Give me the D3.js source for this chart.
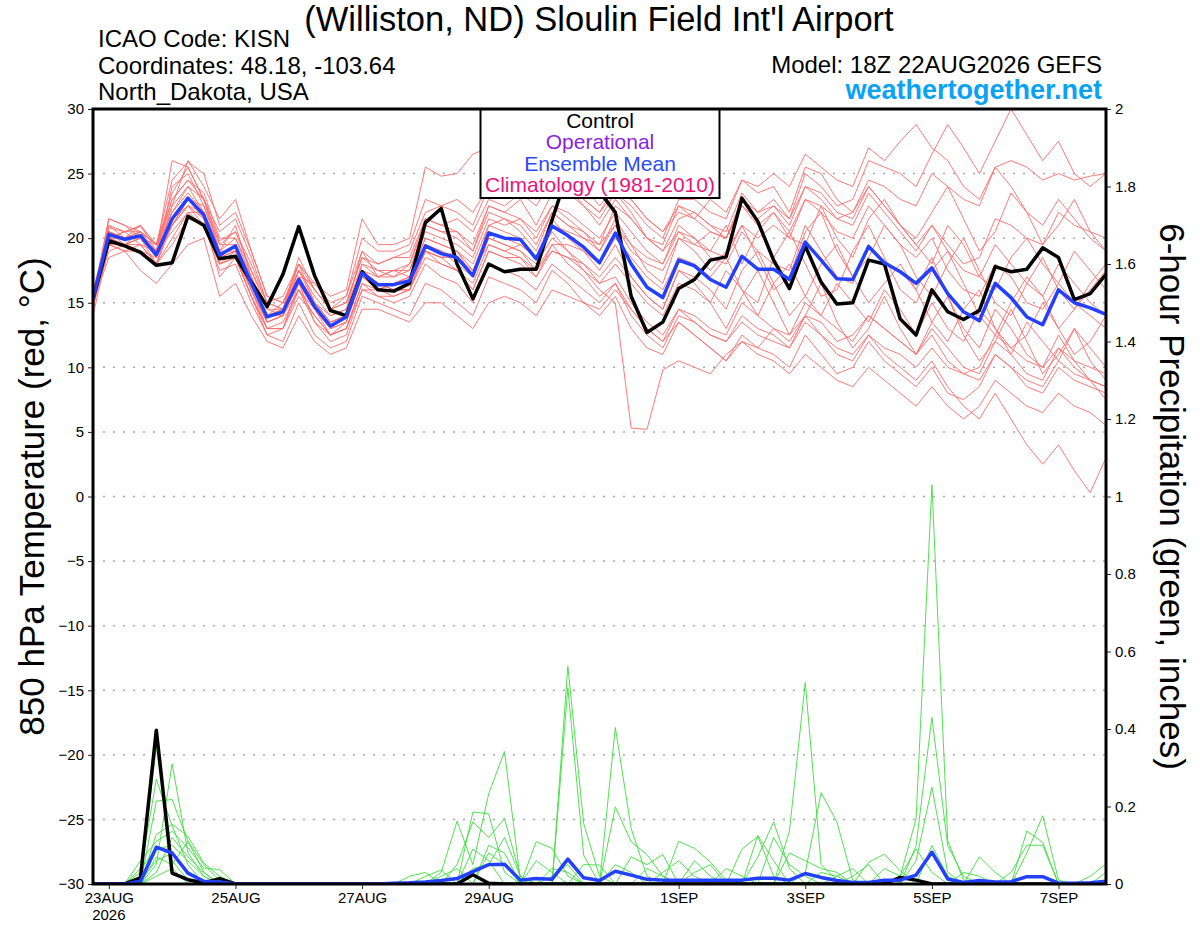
<!DOCTYPE html>
<html>
<head>
<meta charset="utf-8">
<script src="https://cdn.jsdelivr.net/npm/d3@7"></script>
<style>
  body { margin: 0; background: #fff; }
  svg { display: block; font-family: 'Liberation Sans', Arial, Helvetica, sans-serif; }
</style>
</head>
<body>
<div id="chart"></div>
<script>
// run start (18Z 22AUG2026), one value every 6 hours
const runStart = Date.UTC(2026, 7, 22, 18);
const stepHours = 6;

const tempTicks = [-30, -25, -20, -15, -10, -5, 0, 5, 10, 15, 20, 25, 30];
const precipTicks = [0, 0.2, 0.4, 0.6, 0.8, 1, 1.2, 1.4, 1.6, 1.8, 2];
const dateTicks = ['2026-08-23', '2026-08-25', '2026-08-27', '2026-08-29', '2026-09-01', '2026-09-03', '2026-09-05', '2026-09-07'];
const dateLabels = ['23AUG', '25AUG', '27AUG', '29AUG', '1SEP', '3SEP', '5SEP', '7SEP'];

const legendLabels = ['Control', 'Operational', 'Ensemble Mean', 'Climatology (1981-2010)'];

// 850 hPa temperature (C)
const controlTemp = [
  15.3, 19.8, 19.4, 18.9, 17.9, 18.1, 21.7, 21.0, 18.4, 18.6, 16.6, 14.7, 17.2,
  20.9, 17.1, 14.4, 14.0, 17.4, 16.0, 15.9, 16.5, 21.2, 22.3, 18.0, 15.3, 18.0,
  17.4, 17.6, 17.6, 21.4, 25.1, 25.5, 23.6, 22.0, 15.5, 12.7, 13.5, 16.1, 16.8,
  18.3, 18.55, 23.1, 21.3, 18.3, 16.1, 19.4, 16.6, 14.9, 15.0, 18.3, 18.0, 13.75,
  12.5, 16.0, 14.3, 13.7, 14.4, 17.8, 17.4, 17.6, 19.25, 18.5, 15.25, 15.7, 17.2
];
const meanTemp = [
  15.3, 20.3, 19.9, 20.2, 18.7, 21.5, 23.1, 21.8, 18.7, 19.4, 16.5, 13.9, 14.3,
  16.8, 14.7, 13.2, 13.9, 17.3, 16.4, 16.4, 16.7, 19.4, 18.8, 18.5, 17.1, 20.4,
  20.0, 19.9, 18.4, 20.95, 20.2, 19.3, 18.1, 20.4, 18.0, 16.2, 15.4, 18.3, 17.85,
  16.8, 16.2, 18.6, 17.6, 17.6, 16.8, 19.7, 18.3, 16.85, 16.8, 19.35, 18.1, 17.4,
  16.5, 17.7, 15.7, 14.3, 13.6, 16.5, 15.4, 13.9, 13.3, 16.0, 15.0, 14.6, 14.1
];
const memberTemp = [
  [15.0, 20.8, 20.5, 20.9, 19.5, 23.5, 25.5, 23.0, 19.8, 20.5, 17.5, 14.5, 14.0,
   17.5, 15.5, 14.0, 14.5, 18.0, 17.5, 17.0, 18.0, 21.0, 20.5, 20.0, 19.0, 22.5,
   22.0, 23.0, 21.0, 23.5, 24.0, 22.5, 21.0, 23.0, 21.5, 20.0, 19.0, 21.5, 22.0,
   21.0, 20.5, 23.5, 22.0, 23.0, 21.5, 25.0, 24.0, 22.5, 23.0, 26.0, 25.5, 25.0,
   24.0, 26.5, 28.8, 27.0, 25.0, 27.5, 30.0, 28.0, 26.0, 27.5, 25.0, 24.0, 25.0],
  [15, 19, 19.5, 19, 18, 20, 22, 21, 18, 18.5, 15.5, 13, 13.5,
   16, 14, 12.5, 13, 16.5, 15.5, 15, 15.5, 18, 17, 16.5, 15, 18,
   17.5, 17, 16, 18, 17, 16, 15, 16.5, 14, 12.5, 11.5, 14, 13.5,
   12.5, 12, 14, 13, 12.5, 11.5, 14, 12.5, 11, 10.5, 12.5, 11, 10,
   9, 10.5, 8.5, 7, 6, 8, 6, 4, 2.5, 4, 2, 0.3, 3],
  [15.5, 20, 19.5, 20.5, 19, 22, 23.5, 22, 18.5, 19.5, 16.5, 13.5, 14,
   16.5, 14.5, 13, 13.5, 17, 16.5, 16, 16.5, 19.5, 19, 18, 17, 20,
   19.5, 19, 18, 20, 19, 17.5, 16, 15, 5.3, 5.2, 9.8, 10.5, 10,
   9.5, 11, 12, 11.5, 13, 12, 14, 13.5, 12, 12.5, 14, 13, 12,
   11, 12.5, 10.5, 9.5, 9, 11, 10, 8.5, 8, 10, 9, 8.5, 8],
  [14.5, 21, 20, 20, 18.5, 24, 25, 22.5, 19, 21, 17, 14, 15,
   18, 15, 14, 14.5, 19, 17, 17.5, 17, 20, 19.5, 19, 18, 21,
   21.5, 20.5, 19, 22, 21, 20, 19, 21.5, 19.5, 17.5, 16.5, 20, 19,
   17.5, 19, 21, 18.5, 16, 17, 20.5, 22, 19, 17, 18.5, 21, 19.5,
   17, 15.5, 18, 20, 17.5, 15, 14, 16.5, 18.5, 16, 14.5, 16, 17.5],
  [16, 20.5, 20, 21, 19.5, 21, 23, 22.5, 19.5, 19.5, 17, 14.5, 14.5,
   17.5, 15, 13.5, 14, 17.5, 17, 17, 17.5, 20.5, 20, 19.5, 18.5, 21.5,
   21, 21.5, 20, 22.5, 22, 21, 20, 22, 20.5, 19, 18, 20.5, 20,
   19, 21, 18, 20.5, 22, 20, 19.5, 22.5, 20, 18.5, 21.5, 23, 21,
   19.5, 18, 21, 19.5, 17, 16, 18.5, 20, 18, 16.5, 19, 17.5, 16],
  [15, 20, 20.5, 19.5, 19, 23, 24.5, 23.5, 20, 20, 17.5, 15, 14.5,
   18, 16, 14.5, 15, 18.5, 18, 18.5, 19, 22, 22.5, 23, 22, 24,
   24.5, 25, 24, 26, 25.5, 24, 22.5, 24, 23, 21.5, 20.5, 22, 21.5,
   23, 22, 24.5, 23.5, 24, 22, 25.5, 25, 23, 22, 24, 22.5, 21,
   20, 22, 24, 21.5, 19, 20.5, 23.5, 22, 19.5, 21, 23, 20.5, 19],
  [15, 19.5, 19, 19.5, 18, 19.5, 21.5, 21, 17.5, 18, 15, 12.5, 12,
   15, 12.5, 11.5, 12, 15.5, 15, 14.5, 14, 16.5, 16, 15, 14, 17,
   16.5, 16, 15, 17.5, 16.5, 15, 14, 15.5, 13, 11.5, 11, 13.5, 12.5,
   11.5, 10.5, 12.5, 11.5, 11, 10, 12.5, 11, 9.5, 10, 12, 10.5, 9.5,
   8.5, 10, 8, 7.5, 8.5, 11, 10, 9, 8.5, 10.5, 9.5, 9, 7.5],
  [15.5, 21.5, 21, 20.5, 19.5, 22.5, 26, 24, 21.5, 23, 19, 15.5, 15,
   17, 16.5, 15.5, 16, 21.5, 19.5, 19.5, 20, 25.5, 24.8, 25, 26.5, 27,
   26, 26.5, 25, 26, 24.5, 23, 22, 23.5, 22, 20, 19, 20.5, 19.5,
   20.5, 20, 22.5, 21, 22, 20.5, 23, 22, 20.5, 20, 22.5, 21, 19.5,
   18.5, 20, 17.5, 16, 15.5, 18, 17, 15, 14.5, 16.5, 15, 14, 13],
  [14.5, 20, 19.5, 20, 18, 21.5, 22.5, 21.5, 17, 18.5, 15.5, 12.5, 13,
   16.5, 13.5, 12, 12.5, 16, 16, 16.5, 17, 19, 18.5, 18.5, 17.5, 19.5,
   19, 18.5, 17.5, 19, 18.5, 18, 17, 18.5, 17, 15.5, 14.5, 17.5, 17,
   16, 14.5, 17.5, 19, 16.5, 14, 15.5, 18, 19.5, 17, 15, 16.5, 18,
   16, 13.5, 12, 14.5, 16, 13, 11.5, 12.5, 15, 13, 11, 12, 14],
  [15, 20.5, 20, 20.5, 19.5, 22, 24, 22, 18.5, 19, 16, 13.5, 14,
   16, 14.5, 13, 14, 17, 16.5, 16, 16, 19, 18.5, 17.5, 16.5, 19.5,
   19, 19.5, 18.5, 21, 20.5, 20, 19.5, 21, 19, 18, 17.5, 20, 19.5,
   19, 18.5, 21, 20, 21, 20, 23, 22.5, 21.5, 22, 24.5, 24, 23,
   22.5, 25, 24, 23, 22.5, 25.5, 26, 25.5, 24.5, 25, 24.5, 24.8, 25],
  [15.5, 20, 20, 20, 19, 20.5, 22, 22, 19, 19, 16.5, 14, 14.5,
   16.5, 14.5, 13, 13.5, 17.5, 16.5, 16.5, 16.5, 19, 18.5, 19, 17, 21,
   20.5, 20, 18.5, 21.5, 20, 19, 17.5, 19.5, 17, 15.5, 14.5, 17.5, 16.5,
   15, 17.5, 16, 14, 16.5, 18, 15.5, 14, 16.5, 15, 13.5, 16, 14.5,
   12.5, 15, 13, 12, 14.5, 13, 11, 13.5, 12, 10.5, 13, 11.5, 10],
  [15, 21, 20.5, 21, 19, 26, 25.5, 23, 19.5, 20.5, 18, 15, 15.5,
   18, 16.5, 15, 15.5, 19, 18, 18.5, 18.5, 21.5, 21, 20.5, 19, 22,
   21.5, 21, 19.5, 22, 21, 20.5, 19, 21, 19.5, 18.5, 18, 21, 20,
   18.5, 18, 20.5, 19, 18, 17.5, 21, 19, 17, 16.5, 19.5, 18, 17.5,
   16, 18.5, 15.5, 13, 11.5, 14.5, 13, 11, 10, 12.5, 10.5, 9, 8.5],
  [15, 18.5, 19, 17.5, 16.5, 18, 19.5, 20, 15.5, 16.5, 14, 12, 11.5,
   14, 12, 11, 11.5, 14.5, 14.5, 14, 13.5, 15, 15, 14, 13, 15,
   15.5, 15, 14, 16, 15.5, 15, 14.5, 16, 14.5, 13, 12, 14.5, 14,
   13, 12.5, 15, 14, 13, 12.5, 15, 14, 13, 12, 14, 13, 12,
   11, 13, 11.5, 10, 9.5, 12, 11, 9.5, 9, 11.5, 10, 9, 8.5],
  [15.5, 20.5, 20, 20.5, 18.5, 22.5, 24, 23, 19, 20, 17, 14, 14.5,
   17, 15, 13.5, 14, 18, 17, 17.5, 18, 21.5, 21, 21.5, 20.5, 23,
   22.5, 23.5, 22.5, 24.5, 23.5, 22.5, 21.5, 23.5, 22.5, 21, 20, 23, 23,
   22, 21.5, 24.5, 24, 25, 24, 26.5, 25.5, 24.5, 24, 27, 26, 27.5,
   28.8, 27, 26, 24, 23, 25.5, 24, 22, 21, 23, 21.5, 20, 19],
  [14, 19.5, 19.5, 19, 18.5, 21, 23, 21.5, 18, 19, 16, 13, 13,
   15.5, 14, 12.5, 13, 16.5, 16, 15.5, 16, 18.5, 18, 17.5, 16, 19,
   18.5, 18.5, 17, 19.5, 19.5, 19, 18, 20, 18.5, 17, 16, 18.5, 18,
   17, 18.5, 16, 15, 18.5, 20.5, 18, 15.5, 16, 19, 21, 18.5, 16,
   15, 17.5, 19, 16.5, 14, 12.5, 15, 17, 15.5, 13, 14.5, 16.5, 18],
  [15.5, 20, 19.5, 20, 19, 21, 22.5, 21, 18, 18.5, 16, 13.5, 14,
   17, 14.5, 12.5, 13.5, 17, 16, 16.5, 17, 20, 19.5, 19, 17.5, 20.5,
   20, 19.5, 18.5, 20.5, 19, 18, 16.5, 17, 15, 13.5, 12.5, 14.5, 13.5,
   12.5, 12, 13.5, 12.5, 12, 11.5, 13.5, 12.5, 11.5, 11, 12.5, 11.5, 11,
   10, 11.5, 10, 9.5, 10, 12.5, 11.5, 10.5, 10, 11.5, 10.5, 10, 9.5],
  [15, 20.5, 19.5, 19.5, 18, 21.5, 23, 22, 18.5, 19, 16.5, 14, 14,
   17, 15, 13.5, 14, 17.5, 16.5, 16, 16, 19.5, 19, 18.5, 17, 20,
   19.5, 19, 17.5, 19.5, 18, 17, 15.5, 16.5, 14.5, 13, 12, 13.5, 12.5,
   11.5, 10.5, 12, 11, 10.5, 9.5, 11, 10, 9, 8.5, 10, 9, 8,
   7, 8.5, 7, 6, 7, 9, 8, 7, 6.5, 8, 7, 6.5, 5.5],
  [15, 20, 20.5, 20.5, 19.5, 23, 24.5, 23, 20.5, 21.5, 18.5, 15, 14.5,
   18.5, 16, 14.5, 15, 18.5, 17.5, 17.5, 17.5, 21, 20.5, 20.5, 19.5, 22.5,
   22, 21.5, 20.5, 22.5, 21.5, 20.5, 19.5, 22.5, 21.5, 20, 19.5, 22.5, 22,
   21, 20, 22.5, 21.5, 22.5, 21.5, 24, 23.5, 22, 21.5, 24, 22.5, 21,
   19.5, 21, 19.5, 18, 18.5, 21.5, 21, 20, 19.5, 22, 21, 20.5, 20],
  [15.5, 19.5, 19, 19, 18, 21, 22.5, 22, 18, 18.5, 15.5, 13, 13,
   16, 13.5, 12.5, 13, 16, 15.5, 15.5, 16, 19, 18, 17.5, 16, 19,
   18.5, 18, 17, 19, 18.5, 17.5, 16.5, 18, 16.5, 15, 14, 16.5, 16,
   15, 13, 15.5, 17.5, 15, 12.5, 14, 16.5, 13.5, 11.5, 13, 15.5, 13,
   11, 13.5, 15.5, 12.5, 10.5, 12, 14.5, 12, 9.5, 11, 13, 10.5, 9],
  [15, 21.5, 21, 20, 19.5, 24.5, 25.9, 25, 21, 22, 19, 15.5, 15,
   17.5, 16, 14.5, 15.5, 20, 19, 19, 19.5, 23, 22.5, 22, 21, 24,
   23.5, 24, 23, 25, 24, 23, 22, 24, 23, 21.5, 20.5, 22.5, 21.5,
   20.5, 20, 23, 22, 22.5, 21, 24, 23, 21.5, 21, 23.5, 22, 20.5,
   19, 21, 19, 17.5, 17, 19.5, 18, 16.5, 15.5, 18, 16.5, 15, 14]
];

// 6-hour precipitation (inches)
const controlPrecip = [
  0, 0, 0, 0.016, 0.397, 0.028, 0.011, 0.003, 0.014, 0, 0, 0, 0,
  0, 0, 0, 0, 0, 0, 0, 0, 0, 0, 0, 0.024, 0.002,
  0, 0, 0, 0, 0, 0, 0, 0, 0, 0, 0, 0, 0,
  0, 0, 0, 0, 0, 0, 0, 0, 0, 0, 0, 0, 0.017,
  0.01, 0, 0, 0, 0, 0, 0, 0, 0, 0, 0, 0, 0
];
const meanPrecip = [
  0, 0, 0, 0.007, 0.095, 0.08, 0.028, 0.007, 0.005, 0, 0, 0, 0,
  0, 0, 0, 0, 0, 0, 0.002, 0.003, 0.005, 0.009, 0.014, 0.032, 0.05,
  0.051, 0.01, 0.014, 0.012, 0.064, 0.016, 0.009, 0.033, 0.023, 0.012, 0.01, 0.01, 0.01,
  0.01, 0.01, 0.01, 0.015, 0.015, 0.01, 0.027, 0.017, 0.009, 0.004, 0.004, 0.01, 0.01,
  0.023, 0.082, 0.013, 0.004, 0.009, 0.005, 0.006, 0.019, 0.019, 0.002, 0.002, 0.003, 0.007
];
const memberPrecip = [
  [0, 0, 0, 0.02, 0.352, 0.06, 0.01, 0, 0, 0, 0, 0, 0,
   0, 0, 0, 0, 0, 0, 0, 0, 0, 0.03, 0.162, 0.05, 0.233,
   0.342, 0.01, 0, 0, 0, 0, 0, 0, 0, 0, 0, 0, 0,
   0, 0, 0, 0, 0, 0, 0, 0, 0, 0, 0, 0, 0,
   0, 0, 0, 0, 0, 0, 0, 0, 0, 0, 0, 0, 0.03],
  [0, 0, 0, 0, 0.05, 0.31, 0.08, 0.02, 0, 0, 0, 0, 0,
   0, 0, 0, 0, 0, 0, 0, 0, 0, 0, 0, 0.186, 0.181,
   0.03, 0, 0, 0, 0.562, 0.156, 0.02, 0, 0, 0, 0, 0, 0,
   0, 0, 0, 0, 0, 0, 0, 0, 0, 0, 0, 0, 0,
   0, 0, 0, 0, 0, 0, 0, 0, 0, 0, 0, 0, 0],
  [0, 0, 0, 0.03, 0.27, 0.15, 0.05, 0, 0, 0, 0, 0, 0,
   0, 0, 0, 0, 0, 0, 0, 0, 0, 0, 0.05, 0.16, 0.12,
   0.169, 0.02, 0, 0, 0.507, 0.074, 0, 0.404, 0.143, 0.02, 0, 0, 0,
   0, 0, 0, 0, 0, 0, 0, 0, 0, 0, 0, 0, 0,
   0, 0, 0, 0, 0, 0, 0, 0, 0, 0, 0, 0, 0],
  [0, 0, 0, 0, 0.214, 0.218, 0.11, 0.03, 0, 0, 0, 0, 0,
   0, 0, 0, 0, 0, 0, 0, 0, 0, 0, 0, 0, 0.1,
   0.08, 0, 0.109, 0.092, 0.02, 0, 0, 0.199, 0.109, 0.076, 0.02, 0, 0,
   0, 0, 0, 0, 0, 0, 0, 0, 0, 0, 0, 0, 0,
   0, 0, 0, 0, 0, 0, 0, 0, 0, 0, 0, 0, 0],
  [0, 0, 0, 0, 0.128, 0.154, 0.123, 0.054, 0.02, 0, 0, 0, 0,
   0, 0, 0, 0, 0, 0, 0, 0, 0.02, 0.036, 0, 0.09, 0.06,
   0, 0, 0, 0, 0, 0.05, 0.049, 0, 0, 0, 0, 0.11, 0.092,
   0.057, 0.01, 0, 0, 0, 0, 0, 0, 0, 0, 0, 0, 0,
   0, 0, 0, 0, 0, 0, 0, 0, 0, 0, 0, 0, 0],
  [0, 0, 0, 0.06, 0.11, 0.136, 0.093, 0.041, 0.037, 0, 0, 0, 0,
   0, 0, 0, 0, 0, 0, 0, 0, 0, 0, 0, 0, 0.08,
   0.05, 0, 0, 0.04, 0.03, 0, 0, 0, 0.07, 0.05, 0.076, 0, 0,
   0, 0, 0.09, 0.123, 0.02, 0, 0, 0, 0, 0, 0, 0, 0,
   0, 0, 0, 0, 0, 0, 0, 0, 0, 0, 0, 0, 0],
  [0, 0, 0, 0.04, 0.09, 0.1, 0.06, 0.02, 0, 0, 0, 0, 0,
   0, 0, 0, 0, 0, 0, 0, 0, 0, 0, 0, 0.04, 0.05,
   0.12, 0.02, 0, 0, 0, 0, 0, 0, 0, 0, 0, 0, 0.06,
   0.02, 0, 0, 0.07, 0.16, 0.04, 0, 0, 0, 0, 0, 0, 0,
   0, 0, 0, 0, 0, 0, 0, 0, 0, 0, 0, 0, 0],
  [0, 0, 0, 0, 0.07, 0.05, 0.11, 0.05, 0.01, 0, 0, 0, 0,
   0, 0, 0, 0, 0, 0, 0, 0.02, 0.03, 0, 0, 0, 0,
   0, 0, 0, 0, 0, 0, 0, 0, 0, 0, 0, 0, 0,
   0, 0, 0, 0, 0, 0.137, 0.52, 0.05, 0.01, 0, 0, 0, 0,
   0, 0, 0, 0, 0, 0, 0, 0, 0, 0, 0, 0, 0],
  [0, 0, 0, 0.01, 0.06, 0.08, 0.03, 0, 0, 0, 0, 0, 0,
   0, 0, 0, 0, 0, 0, 0, 0, 0, 0.02, 0.04, 0, 0,
   0, 0, 0, 0, 0, 0, 0, 0, 0, 0, 0, 0, 0,
   0, 0, 0, 0.125, 0.06, 0, 0.03, 0.236, 0.16, 0.01, 0, 0, 0,
   0, 0, 0, 0, 0, 0, 0, 0, 0, 0, 0, 0, 0],
  [0, 0, 0, 0, 0.03, 0.12, 0.07, 0.03, 0, 0, 0, 0, 0,
   0, 0, 0, 0, 0, 0, 0, 0, 0, 0, 0, 0, 0,
   0, 0, 0.06, 0.03, 0, 0, 0, 0, 0, 0, 0, 0, 0,
   0, 0, 0, 0, 0.12, 0.05, 0.02, 0, 0, 0, 0, 0, 0,
   0, 0, 0, 0, 0, 0, 0, 0, 0, 0, 0, 0, 0],
  [0, 0, 0, 0, 0.02, 0.04, 0, 0, 0, 0, 0, 0, 0,
   0, 0, 0, 0, 0, 0, 0, 0, 0, 0, 0, 0, 0,
   0, 0, 0, 0, 0, 0, 0, 0.05, 0.03, 0, 0, 0, 0,
   0, 0, 0, 0, 0, 0.08, 0.06, 0.04, 0.03, 0, 0, 0, 0,
   0, 0, 0, 0, 0, 0, 0, 0, 0, 0, 0, 0, 0],
  [0, 0, 0, 0, 0, 0, 0, 0, 0, 0, 0, 0, 0,
   0, 0, 0, 0, 0, 0, 0, 0, 0, 0, 0, 0, 0,
   0, 0, 0, 0, 0, 0, 0, 0, 0, 0, 0.03, 0.06, 0.02,
   0, 0, 0, 0, 0, 0, 0, 0, 0, 0, 0, 0, 0.02,
   0.168, 1.03, 0.112, 0.01, 0, 0, 0, 0, 0, 0, 0, 0, 0],
  [0, 0, 0, 0, 0, 0, 0, 0, 0, 0, 0, 0, 0,
   0, 0, 0, 0, 0, 0, 0, 0, 0, 0, 0, 0, 0,
   0, 0, 0, 0, 0, 0, 0, 0, 0, 0, 0, 0, 0,
   0, 0.04, 0.02, 0, 0, 0, 0, 0, 0, 0, 0, 0, 0,
   0.099, 0.43, 0.099, 0.02, 0, 0, 0, 0, 0, 0, 0, 0, 0],
  [0, 0, 0, 0, 0, 0, 0, 0, 0, 0, 0, 0, 0,
   0, 0, 0, 0, 0, 0, 0, 0, 0, 0, 0, 0, 0,
   0, 0, 0, 0, 0, 0, 0, 0, 0, 0, 0, 0, 0,
   0, 0, 0, 0, 0, 0, 0, 0, 0, 0.02, 0.05, 0, 0,
   0.06, 0.25, 0.03, 0, 0, 0, 0, 0, 0, 0, 0, 0, 0],
  [0, 0, 0, 0, 0, 0, 0, 0, 0, 0, 0, 0, 0,
   0, 0, 0, 0, 0, 0, 0, 0, 0, 0, 0, 0, 0,
   0, 0, 0, 0.02, 0.05, 0, 0, 0, 0, 0, 0, 0, 0,
   0, 0, 0, 0, 0, 0, 0, 0, 0, 0, 0.056, 0.077, 0.034,
   0, 0.099, 0.02, 0, 0, 0, 0, 0, 0, 0, 0, 0, 0],
  [0, 0, 0, 0, 0, 0, 0, 0, 0, 0, 0, 0, 0,
   0, 0, 0, 0, 0, 0, 0, 0, 0, 0, 0, 0, 0,
   0, 0, 0, 0, 0, 0, 0, 0, 0, 0, 0, 0, 0.03,
   0.05, 0, 0, 0, 0, 0, 0, 0, 0, 0, 0, 0.04, 0.02,
   0.09, 0.03, 0, 0, 0.07, 0.03, 0, 0, 0, 0, 0, 0, 0],
  [0, 0, 0, 0, 0, 0, 0, 0, 0, 0, 0, 0, 0,
   0, 0, 0, 0, 0, 0, 0, 0, 0, 0, 0, 0, 0,
   0, 0, 0, 0, 0, 0, 0, 0, 0, 0, 0, 0, 0,
   0, 0, 0, 0, 0, 0, 0, 0.03, 0.02, 0, 0, 0, 0,
   0, 0, 0, 0, 0, 0, 0, 0.137, 0.107, 0, 0, 0, 0],
  [0, 0, 0, 0, 0, 0, 0, 0, 0, 0, 0, 0, 0,
   0, 0, 0, 0, 0, 0, 0, 0, 0, 0, 0, 0, 0,
   0, 0, 0, 0, 0, 0, 0, 0, 0, 0, 0, 0, 0,
   0, 0, 0, 0, 0, 0, 0, 0, 0, 0, 0, 0, 0,
   0, 0, 0, 0.03, 0.02, 0, 0, 0.08, 0.176, 0.01, 0, 0, 0],
  [0, 0, 0, 0, 0, 0, 0, 0, 0, 0, 0, 0, 0,
   0, 0, 0, 0, 0, 0, 0, 0, 0, 0, 0, 0, 0,
   0, 0, 0, 0, 0, 0, 0, 0, 0, 0.04, 0.02, 0, 0,
   0, 0, 0, 0, 0, 0, 0, 0, 0, 0, 0, 0, 0,
   0, 0, 0, 0, 0, 0, 0.03, 0.1, 0.1, 0, 0, 0, 0],
  [0, 0, 0, 0, 0, 0, 0, 0, 0, 0, 0, 0, 0,
   0, 0, 0, 0, 0, 0, 0, 0, 0, 0, 0, 0, 0,
   0, 0, 0, 0, 0, 0, 0, 0, 0, 0, 0, 0, 0,
   0, 0, 0, 0, 0, 0, 0, 0, 0.02, 0.04, 0, 0, 0,
   0, 0, 0, 0, 0, 0, 0, 0, 0, 0, 0, 0.02, 0.052]
];

const width = 1200;
const height = 927;
const plot = { left: 93, right: 1106, top: 109, bottom: 884 };

const times = controlTemp.map((d, i) => new Date(runStart + i * stepHours * 3600e3));

const svg = d3
  .select('#chart')
  .append('svg')
  .attr('width', width)
  .attr('height', height)
  .attr('viewBox', `0 0 ${width} ${height}`);

const xScale = d3
  .scaleUtc()
  .domain([times[0], times[times.length - 1]])
  .range([plot.left, plot.right]);

const yTemp = d3.scaleLinear().domain([-30, 30]).range([plot.bottom, plot.top]);
const yPrecip = d3.scaleLinear().domain([0, 2]).range([plot.bottom, plot.top]);

svg.append('clipPath')
  .attr('id', 'plot-clip')
  .append('rect')
  .attr('x', plot.left)
  .attr('y', plot.top)
  .attr('width', plot.right - plot.left)
  .attr('height', plot.bottom - plot.top);

// dotted gridlines at the temperature ticks
svg.append('g')
  .attr('class', 'gridlines')
  .selectAll('line')
  .data(tempTicks.filter((d) => d > -30 && d < 30))
  .join('line')
  .attr('x1', plot.left)
  .attr('x2', plot.right)
  .attr('y1', (d) => yTemp(d))
  .attr('y2', (d) => yTemp(d))
  .attr('stroke', '#a8a8a8')
  .attr('stroke-width', 1.5)
  .attr('stroke-dasharray', '2,8');

const series = svg.append('g').attr('clip-path', 'url(#plot-clip)');

function drawLine(values, yScale, color, lineWidth) {
  const line = d3
    .line()
    .x((d, i) => xScale(times[i]))
    .y((d) => yScale(d));

  series.append('path')
    .datum(values)
    .attr('fill', 'none')
    .attr('stroke', color)
    .attr('stroke-width', lineWidth)
    .attr('stroke-linejoin', 'round')
    .attr('d', line);
}

memberTemp.forEach((m) => drawLine(m, yTemp, '#ff6a6a', 0.9));
memberPrecip.forEach((m) => drawLine(m, yPrecip, '#3ddc3d', 0.9));

drawLine(controlTemp, yTemp, '#000', 3.5);
drawLine(controlPrecip, yPrecip, '#000', 3.5);
drawLine(meanTemp, yTemp, '#2440ff', 3.5);
drawLine(meanPrecip, yPrecip, '#2440ff', 3.5);

// legend box at the top centre
const legendColors = ['#000000', '#8a1fe0', '#2a48ff', '#ec1479'];
const legend = svg.append('g').attr('class', 'legend');

legend.append('rect')
  .attr('x', 480.5)
  .attr('y', plot.top)
  .attr('width', 239)
  .attr('height', 89)
  .attr('fill', '#fff')
  .attr('stroke', '#000')
  .attr('stroke-width', 2);

legend.selectAll('text')
  .data(legendLabels)
  .join('text')
  .attr('x', 600)
  .attr('y', (d, i) => 127.5 + i * 21.5)
  .attr('text-anchor', 'middle')
  .attr('font-size', 21)
  .attr('fill', (d, i) => legendColors[i])
  .text((d) => d);

// axes
const leftAxis = svg.append('g')
  .attr('transform', `translate(${plot.left}, 0)`)
  .call(d3.axisLeft(yTemp).tickValues(tempTicks).tickSize(5).tickPadding(4));

const rightAxis = svg.append('g')
  .attr('transform', `translate(${plot.right}, 0)`)
  .call(d3.axisRight(yPrecip).tickValues(precipTicks).tickSize(5).tickPadding(4).tickFormat((d) => String(d)));

const bottomAxis = svg.append('g')
  .attr('transform', `translate(0, ${plot.bottom})`)
  .call(
    d3.axisBottom(xScale)
      .tickValues(dateTicks.map((d) => new Date(d + 'T00:00Z')))
      .tickFormat((d, i) => dateLabels[i])
      .tickSize(5)
      .tickPadding(3)
  );

[leftAxis, rightAxis, bottomAxis].forEach((axis) => {
  axis.select('.domain').remove();
  axis.selectAll('.tick line').attr('stroke', '#222');
  axis.selectAll('.tick text')
    .attr('fill', '#000')
    .attr('font-size', 15)
    .attr('font-family', "'Liberation Sans', Arial, sans-serif");
});

bottomAxis.append('text')
  .attr('x', xScale(new Date('2026-08-23T00:00Z')))
  .attr('y', 36)
  .attr('text-anchor', 'middle')
  .attr('fill', '#000')
  .attr('font-size', 15)
  .attr('font-family', "'Liberation Sans', Arial, sans-serif")
  .text('2026');

// heavy frame round the plot
svg.append('rect')
  .attr('x', plot.left)
  .attr('y', plot.top)
  .attr('width', plot.right - plot.left)
  .attr('height', plot.bottom - plot.top)
  .attr('fill', 'none')
  .attr('stroke', '#000')
  .attr('stroke-width', 3);

// axis titles
svg.append('text')
  .attr('transform', `translate(44, ${(plot.top + plot.bottom) / 2}) rotate(-90)`)
  .attr('text-anchor', 'middle')
  .attr('font-size', 35)
  .text('850 hPa Temperature (red, °C)');

svg.append('text')
  .attr('transform', `translate(1160, ${(plot.top + plot.bottom) / 2}) rotate(90)`)
  .attr('text-anchor', 'middle')
  .attr('font-size', 35)
  .text('6-hour Precipitation (green, inches)');

// header
svg.append('text')
  .attr('x', 599)
  .attr('y', 31)
  .attr('text-anchor', 'middle')
  .attr('font-size', 34.5)
  .text("(Williston, ND) Sloulin Field Int'l Airport");

const infoLines = ['ICAO Code: KISN', 'Coordinates: 48.18, -103.64', 'North_Dakota, USA'];
svg.append('g')
  .selectAll('text')
  .data(infoLines)
  .join('text')
  .attr('x', 98)
  .attr('y', (d, i) => 47 + i * 26.7)
  .attr('font-size', 24)
  .text((d) => d);

svg.append('text')
  .attr('x', 1102)
  .attr('y', 73)
  .attr('text-anchor', 'end')
  .attr('font-size', 24)
  .text('Model: 18Z 22AUG2026 GEFS');

svg.append('text')
  .attr('x', 1102)
  .attr('y', 99)
  .attr('text-anchor', 'end')
  .attr('font-size', 27)
  .attr('font-weight', 'bold')
  .attr('fill', '#0aa2f5')
  .text('weathertogether.net');
</script>
</body>
</html>
